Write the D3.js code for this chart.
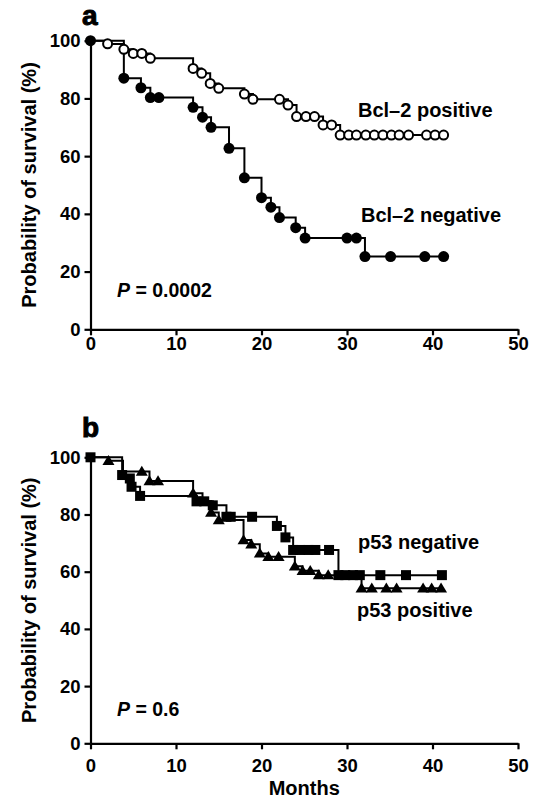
<!DOCTYPE html>
<html>
<head>
<meta charset="utf-8">
<script src="https://cdn.jsdelivr.net/npm/d3@7"></script>
<style>
  html, body { margin: 0; padding: 0; background: #fff; }
  svg { display: block; }
  text { font-family: "Liberation Sans", Arial, Helvetica, sans-serif; fill: #000; }
</style>
</head>
<body>
<svg id="chart" width="539" height="801"></svg>
<script>
// ---------- data ----------
const monthTicks = [0, 10, 20, 30, 40, 50];
const survivalTicks = [0, 20, 40, 60, 80, 100];

// Panel a: Bcl-2 positive (open circles)
const bcl2PosStepMonths   = [2.0, 3.9, 5.0, 7.0, 12.0, 13.0, 14.0, 15.0, 18.0, 19.0, 23.1, 24.1, 27.2, 29.2];
const bcl2PosStepSurvival = [98.9, 97.0, 95.6, 93.9, 90.4, 88.7, 85.2, 83.5, 81.5, 79.7, 77.7, 73.7, 70.8, 67.3];
const bcl2PosMarkMonths   = [2.0, 3.9, 5.0, 6.0, 7.0, 12.0, 13.0, 14.0, 15.0, 18.0, 19.0, 22.1, 23.1, 24.1, 25.2, 26.2, 27.2, 28.2, 29.2, 30.2, 31.1, 32.2, 33.2, 34.2, 35.2, 36.1, 37.2, 39.3, 40.3, 41.3];

// Panel a: Bcl-2 negative (filled circles)
const bcl2NegStepMonths   = [3.9, 5.9, 7.0, 12.0, 13.1, 14.1, 16.2, 18.0, 20.0, 21.1, 22.1, 24.0, 25.1, 32.1];
const bcl2NegStepSurvival = [87.0, 83.7, 80.3, 76.9, 73.5, 70.0, 62.7, 52.5, 45.6, 42.3, 38.7, 35.2, 31.6, 25.2];
const bcl2NegMarkMonths   = [0, 3.9, 5.9, 7.0, 8.0, 12.0, 13.1, 14.1, 16.2, 18.0, 20.0, 21.1, 22.1, 24.0, 25.1, 30.0, 31.1, 32.1, 35.1, 39.1, 41.3];

// Panel b: p53 positive (triangles)
const p53PosStepMonths   = [2.1, 3.8, 6.9, 12.0, 13.1, 14.1, 15.0, 17.9, 18.8, 19.8, 20.8, 23.9, 24.8, 26.7, 31.7];
const p53PosStepSurvival = [98.8, 95.0, 91.7, 87.4, 84.6, 80.7, 78.1, 71.1, 69.6, 66.4, 65.2, 61.9, 60.3, 58.8, 54.2];
const p53PosMarkMonths   = [2.1, 6.0, 6.9, 7.9, 12.0, 13.1, 14.1, 15.0, 17.9, 18.8, 19.8, 20.8, 22.0, 23.9, 24.8, 25.7, 26.7, 27.8, 31.7, 32.9, 34.6, 35.8, 38.9, 39.9, 41.0];

// Panel b: p53 negative (squares)
const p53NegStepMonths   = [3.7, 4.6, 4.8, 5.8, 12.4, 14.3, 15.9, 21.8, 22.8, 23.7, 29.0];
const p53NegStepSurvival = [93.8, 92.6, 89.7, 86.5, 84.6, 83.2, 79.2, 76.0, 72.0, 67.6, 58.8];
const p53NegMarkMonths   = [0, 3.7, 4.6, 4.8, 5.8, 12.4, 13.3, 14.3, 15.9, 16.4, 18.9, 21.8, 22.8, 23.7, 24.5, 25.5, 26.3, 27.9, 29.0, 29.8, 30.7, 31.5, 33.9, 36.9, 41.1];

// ---------- drawing ----------
const svg = d3.select("#chart");
const FONT = '"Liberation Sans", Arial, Helvetica, sans-serif';

const x = d3.scaleLinear().domain([0, 50]).range([90.5, 518]);

function survivalAt(stepM, stepS, t) {
  let s = 100;
  for (let i = 0; i < stepM.length; i++) if (t >= stepM[i] - 1e-9) s = stepS[i];
  return s;
}

const symbolPaths = {
  open:   { draw: g => g.append("circle").attr("r", 4.5).attr("fill", "#fff").attr("stroke", "#000").attr("stroke-width", 2) },
  filled: { draw: g => g.append("circle").attr("r", 5.5).attr("fill", "#000") },
  square: { draw: g => g.append("rect").attr("x", -5).attr("y", -5).attr("width", 10).attr("height", 10).attr("fill", "#000") },
  triangle: { draw: g => g.append("path").attr("d", "M-6,4.2L6,4.2L0,-5.8Z").attr("fill", "#000") }
};

function drawPanel(opt) {
  const y = d3.scaleLinear().domain([0, 100]).range([opt.y0, opt.y100]);
  const g = svg.append("g");

  // curves
  opt.series.forEach(s => {
    const last = s.marks[s.marks.length - 1];
    const pts = [[0, 100]].concat(s.stepM.map((m, i) => [m, s.stepS[i]]));
    pts.push([last, survivalAt(s.stepM, s.stepS, last)]);
    g.append("path")
      .attr("d", d3.line().x(d => x(d[0])).y(d => y(d[1])).curve(d3.curveStepAfter)(pts))
      .attr("fill", "none").attr("stroke", "#000").attr("stroke-width", 2);
  });

  // axes
  const xAxis = g.append("g").attr("transform", `translate(0,${opt.y0})`)
    .call(d3.axisBottom(x).tickValues(monthTicks).tickSize(6).tickSizeOuter(0).tickPadding(opt.xPad));
  const yAxis = g.append("g").attr("transform", `translate(${x(0)},0)`)
    .call(d3.axisLeft(y).tickValues(survivalTicks).tickSize(6).tickSizeOuter(0).tickPadding(4));
  [xAxis, yAxis].forEach(a => {
    a.selectAll("path, line").attr("stroke", "#000").attr("stroke-width", 2.2);
    a.selectAll("text").attr("font-family", FONT).attr("font-size", 18.5).attr("font-weight", "bold").attr("fill", "#000");
  });

  // markers
  opt.series.forEach(s => {
    s.marks.forEach(m => {
      const mg = g.append("g").attr("transform", `translate(${x(m)},${y(survivalAt(s.stepM, s.stepS, m))})`);
      symbolPaths[s.symbol].draw(mg);
    });
  });

  // y label
  g.append("text")
    .attr("transform", `translate(36,${(opt.y0 + opt.y100) / 2}) rotate(-90)`)
    .attr("text-anchor", "middle").attr("font-size", 20).attr("font-weight", "bold")
    .text("Probability of survival (%)");

  // panel letter
  g.append("text").attr("x", 82).attr("y", opt.letterY)
    .attr("font-size", 28).attr("font-weight", "bold").attr("stroke", "#000").attr("stroke-width", 1)
    .text(opt.letter);

  // P value
  const pt = g.append("text").attr("x", 117).attr("y", opt.pY).attr("font-size", 19.5).attr("font-weight", "bold");
  pt.append("tspan").attr("font-style", "italic").text("P");
  pt.append("tspan").text(" = " + opt.pText);

  // series labels
  opt.labels.forEach(l => {
    g.append("text").attr("x", l.x).attr("y", l.y).attr("font-size", 20).attr("font-weight", "bold").text(l.text);
  });
}

drawPanel({
  y0: 329.3, y100: 40.7, xPad: 2, letter: "a", letterY: 25, pY: 297, pText: "0.0002",
  series: [
    { stepM: bcl2PosStepMonths, stepS: bcl2PosStepSurvival, marks: bcl2PosMarkMonths, symbol: "open" },
    { stepM: bcl2NegStepMonths, stepS: bcl2NegStepSurvival, marks: bcl2NegMarkMonths, symbol: "filled" }
  ],
  labels: [
    { text: "Bcl\u20132 positive", x: 358, y: 117 },
    { text: "Bcl\u20132 negative", x: 361, y: 221.5 }
  ]
});

drawPanel({
  y0: 743.3, y100: 457.3, xPad: 10, letter: "b", letterY: 437, pY: 716, pText: "0.6",
  series: [
    { stepM: p53PosStepMonths, stepS: p53PosStepSurvival, marks: p53PosMarkMonths, symbol: "triangle" },
    { stepM: p53NegStepMonths, stepS: p53NegStepSurvival, marks: p53NegMarkMonths, symbol: "square" }
  ],
  labels: [
    { text: "p53 negative", x: 358, y: 548.5 },
    { text: "p53 positive", x: 357, y: 617 }
  ]
});

svg.append("text").attr("x", x(25)).attr("y", 795).attr("text-anchor", "middle")
  .attr("font-size", 20).attr("font-weight", "bold").text("Months");
</script>
</body>
</html>
